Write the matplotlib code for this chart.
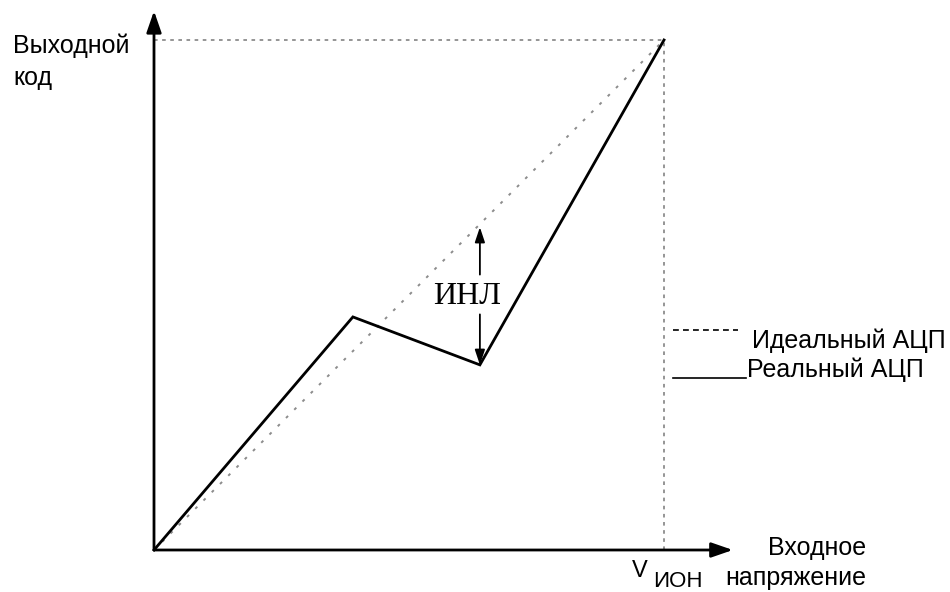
import matplotlib
matplotlib.use('Agg')
import matplotlib.pyplot as plt

# Характеристики АЦП в долях от V_ИОН и полной шкалы кода
ideal_x = [0.0, 1.0]
ideal_y = [0.0, 1.0]
real_x = [0.0, 0.39, 0.639, 1.0]
real_y = [0.0, 0.457, 0.363, 1.0]
# Точка, где показана интегральная нелинейность
inl_x = 0.639
inl_low = 0.363
inl_high = 0.633

fig = plt.figure(figsize=(9.5, 5.92), dpi=100)
ax = fig.add_axes([0, 0, 1, 1])
ax.set_xlim(-154 / 510, (950 - 154) / 510)
ax.set_ylim((550 - 592) / 510, 550 / 510)
ax.axis('off')

sans = 'Liberation Sans'
grey = '#8c8c8c'
fs = 18

# Оси со стрелками
ax.annotate('', xy=(0, 1.057), xytext=(0, 0),
            arrowprops=dict(arrowstyle='-|>,head_length=1.3,head_width=0.45',
                            lw=2, color='black', shrinkA=0, shrinkB=0))
ax.annotate('', xy=(1.135, 0), xytext=(0, 0),
            arrowprops=dict(arrowstyle='-|>,head_length=1.3,head_width=0.45',
                            lw=2, color='black', shrinkA=0, shrinkB=0))

# Вспомогательные пунктиры до V_ИОН и максимального кода
ax.plot([0, 1], [1, 1], color=grey, lw=1.3, ls=(0, (2, 2.5)))
ax.plot([1, 1], [0, 1], color=grey, lw=1.3, ls=(0, (2, 2.5)))

# Идеальная и реальная характеристики
ax.plot(ideal_x, ideal_y, color=grey, lw=1.4, ls=(0, (1.5, 4.5)))
ax.plot(real_x, real_y, color='black', lw=2, solid_joinstyle='miter')

# Стрелка ИНЛ, разорванная подписью
arrow = dict(arrowstyle='-|>,head_length=0.9,head_width=0.3', lw=1.3,
             color='black', shrinkA=0, shrinkB=0)
ax.annotate('', xy=(inl_x, inl_high), xytext=(inl_x, 0.540), arrowprops=arrow)
ax.annotate('', xy=(inl_x, inl_low), xytext=(inl_x, 0.462), arrowprops=arrow)
ax.text(0.613, 0.497, 'ИНЛ', family='Liberation Serif', fontsize=23,
        ha='center', va='center')

# Подписи осей
ax.text(-0.276, 0.912, 'Выходной\nкод', family=sans, fontsize=fs,
        ha='left', va='baseline', linespacing=1.4)
ax.text(1.396, -0.0686, 'Входное\nнапряжение', family=sans, fontsize=fs,
        ha='right', va='baseline', linespacing=1.3, multialignment='right')
ax.text(0.937, -0.053, 'V', family=sans, fontsize=17, ha='left', va='baseline')
ax.text(0.978, -0.0725, 'ИОН', family=sans, fontsize=16, ha='left', va='baseline')

# Легенда
ax.plot([1.018, 1.145], [0.431, 0.431], color='black', lw=1.2, ls=(0, (3.5, 2.5)))
ax.plot([1.018, 1.160], [0.337, 0.337], color='black', lw=1.2)
ax.text(1.172, 0.396, 'Идеальный АЦП', family=sans, fontsize=fs,
        ha='left', va='baseline')
ax.text(1.162, 0.339, 'Реальный АЦП', family=sans, fontsize=fs,
        ha='left', va='baseline')

fig.savefig('out.png', dpi=100, facecolor='white')
